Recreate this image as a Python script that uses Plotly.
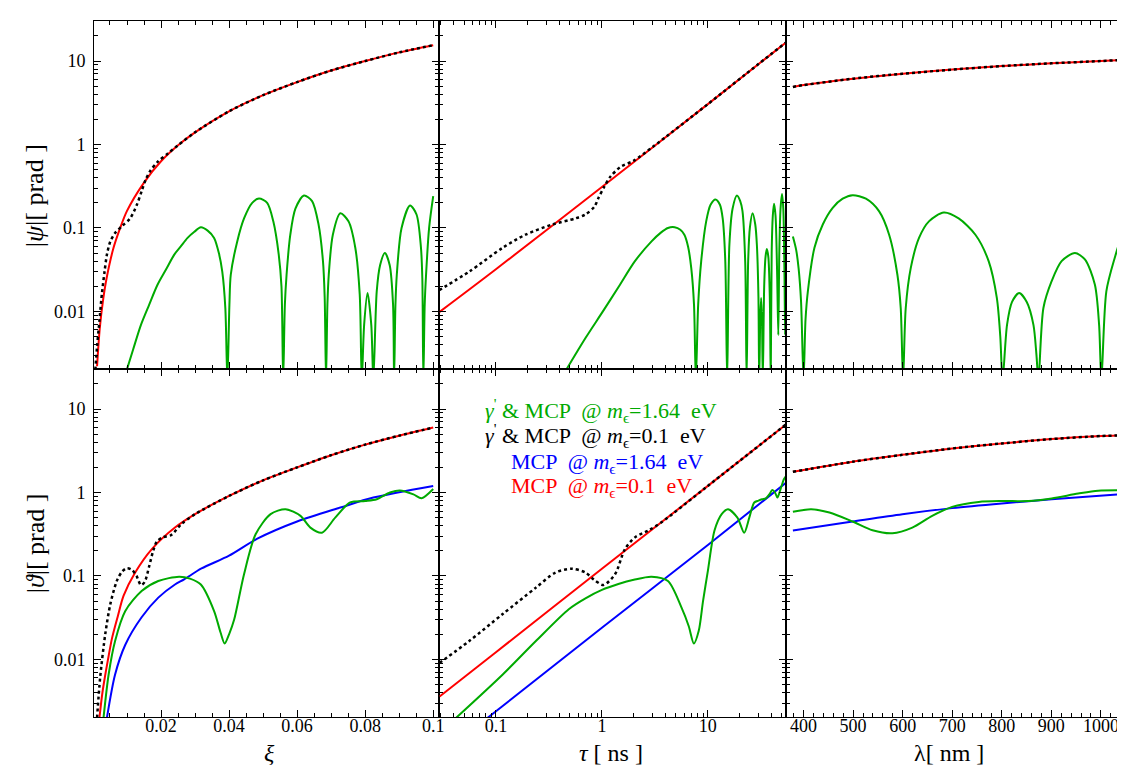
import plotly.graph_objects as go
from plotly.subplots import make_subplots

# ---------------- data ----------------
# top row: |psi| [prad]

# left column, xi
xi_red_top = [0.0012, 0.002, 0.003, 0.004, 0.006, 0.008, 0.01, 0.015, 0.02, 0.025, 0.03,
              0.04, 0.05, 0.06, 0.07, 0.08, 0.09, 0.1]
psi_red_xi = [0.0022, 0.0063, 0.014, 0.025, 0.057, 0.10, 0.16, 0.35, 0.63, 0.98, 1.4,
              2.5, 3.9, 5.6, 7.7, 10, 12.7, 15.5]

xi_blk_top = [0.0007, 0.0012, 0.0017, 0.0026, 0.0034, 0.0041, 0.0051, 0.0065, 0.0085, 0.0109,
              0.0129, 0.0143, 0.0155, 0.0168, 0.019, 0.022, 0.025, 0.03, 0.04, 0.05, 0.06,
              0.07, 0.08, 0.09, 0.1]
psi_blk_xi = [0.002, 0.0038, 0.0063, 0.016, 0.030, 0.048, 0.069, 0.087, 0.105, 0.13,
              0.19, 0.275, 0.38, 0.48, 0.62, 0.78, 0.98, 1.4, 2.5, 3.9, 5.6,
              7.7, 10, 12.7, 15.5]

xi_grn_top = [0.0096, 0.0118, 0.0141, 0.0165, 0.019, 0.0215, 0.0239, 0.0258, 0.0278, 0.0298,
              0.0317, 0.0337, 0.0356, 0.037, 0.038, 0.0389, 0.0395,
              0.0401, 0.0405, 0.0424, 0.0444, 0.0468, 0.0488, 0.0512, 0.053, 0.0546, 0.0554, 0.0559,
              0.0564, 0.0569, 0.058, 0.0595, 0.062, 0.0644, 0.0663, 0.0676, 0.0681, 0.0685,
              0.0689, 0.0693, 0.0705, 0.0727, 0.0751, 0.0771, 0.0784, 0.079,
              0.0797, 0.0807, 0.0818, 0.0824,
              0.0834, 0.0844, 0.0858, 0.0872, 0.0882, 0.0885,
              0.0889, 0.0893, 0.0907, 0.0932, 0.0951, 0.0964, 0.0968, 0.0971,
              0.0975, 0.0979, 0.0988, 0.1]
psi_grn_xi = [0.0018, 0.0035, 0.0069, 0.012, 0.021, 0.032, 0.048, 0.06, 0.076, 0.09,
              0.102, 0.093, 0.076, 0.05, 0.030, 0.011, 0.0015,
              0.012, 0.0275, 0.069, 0.13, 0.20, 0.225, 0.20, 0.12, 0.048, 0.02, 0.0015,
              0.012, 0.0275, 0.083, 0.17, 0.245, 0.21, 0.11, 0.04, 0.015, 0.0015,
              0.012, 0.0275, 0.083, 0.15, 0.12, 0.058, 0.016, 0.0015,
              0.0069, 0.0166, 0.0069, 0.0015,
              0.0174, 0.036, 0.05, 0.036, 0.012, 0.0015,
              0.012, 0.0275, 0.1, 0.186, 0.145, 0.058, 0.025, 0.0015,
              0.012, 0.0275, 0.1, 0.24]

# middle column, tau [ns]
tau_red_top = [0.0292, 0.1, 1, 10, 54.2]
psi_red_tau = [0.0098, 0.032, 0.31, 3.05, 16.6]

tau_blk_top = [0.0292, 0.056, 0.116, 0.19, 0.34, 0.56, 0.70, 0.85, 0.93, 1.05, 1.2, 1.5,
               2.0, 3, 10, 30, 54.2]
psi_blk_tau = [0.018, 0.030, 0.058, 0.083, 0.11, 0.13, 0.145, 0.18, 0.23, 0.31, 0.41, 0.54,
               0.64, 0.93, 3.05, 9.2, 16.6]

tau_grn_top = [0.45, 0.7, 1.0, 1.45, 2.05, 2.94, 3.6, 4.2, 4.86, 5.5, 6.0, 6.5, 6.97, 7.4, 7.7,
               8.1, 8.65, 9.64, 10.6, 11.8, 13.0, 13.8, 14.6, 15.2,
               15.96, 17.1, 18.8, 20.2, 21.2, 22.5, 23.2,
               24.0, 24.9, 26.4, 28.0, 29.0, 30.0, 30.5,
               31.2, 31.8, 32.4, 33.0,
               34.0, 35.0, 36.0, 37.2, 38.4, 39.2,
               40.0, 41.0, 42.1, 43.5, 45.0, 46.2,
               47.2, 48.5, 50.1, 51.5, 52.8, 53.6, 54.2]
psi_grn_tau = [0.0019, 0.0048, 0.0096, 0.02, 0.04, 0.069, 0.088, 0.10, 0.102, 0.095, 0.083, 0.06,
               0.033, 0.012, 0.0015,
               0.012, 0.04, 0.12, 0.19, 0.22, 0.19, 0.13, 0.04, 0.0015,
               0.063, 0.17, 0.245, 0.21, 0.16, 0.04, 0.0015,
               0.04, 0.10, 0.15, 0.11, 0.063, 0.015, 0.0015,
               0.008, 0.0145, 0.008, 0.0015,
               0.02, 0.045, 0.056, 0.045, 0.015, 0.0015,
               0.05, 0.14, 0.195, 0.14, 0.03, 0.0052,
               0.05, 0.17, 0.255, 0.17, 0.03, 0.0052, 0.03]

# right column, lambda [nm]
lam_top = [378.5, 400, 500, 600, 700, 800, 900, 1000, 1054.6]
psi_red_lam = [4.9, 5.15, 6.15, 7.05, 7.9, 8.7, 9.4, 10.0, 10.4]

lam_grn_top = [378.5, 385, 390, 395, 400, 404, 408.7, 422, 438.8, 458.8, 478.9, 499, 525.9,
               552.6, 572.7, 589.4, 596.1, 600.8, 606.2, 616.3, 633, 653, 683.1, 713, 746.8,
               773.5, 790, 797, 801.6, 810.6, 820.7, 835, 850.4, 863.9, 870, 874, 884, 900.6,
               920.7, 947.6, 967.7, 987.8, 996.4, 1001, 1011, 1028, 1041, 1053.2]
psi_grn_lam = [0.079, 0.055, 0.033, 0.013, 0.0015, 0.008, 0.0174, 0.058, 0.11, 0.174, 0.224,
               0.247, 0.224, 0.158, 0.083, 0.0275, 0.011, 0.0015, 0.011, 0.033, 0.076, 0.12,
               0.153, 0.13, 0.083, 0.04, 0.0145, 0.005, 0.0015, 0.0069, 0.013, 0.0166, 0.013,
               0.0069, 0.003, 0.0015, 0.011, 0.023, 0.04, 0.05, 0.042, 0.021, 0.0069, 0.0015,
               0.0174, 0.044, 0.076, 0.105]

# bottom row: |theta| [prad]
xi_red_bot = [0.0019, 0.0027, 0.0036, 0.0046, 0.0056, 0.0073, 0.009, 0.0124, 0.0173, 0.0241,
              0.03, 0.04, 0.05, 0.06, 0.07, 0.08, 0.09, 0.1]
th_red_xi = [0.002, 0.0038, 0.0065, 0.011, 0.018, 0.033, 0.058, 0.11, 0.21, 0.38,
             0.55, 0.91, 1.4, 2.0, 2.8, 3.75, 4.8, 6.0]

xi_blk_bot = [0.0012, 0.0021, 0.0036, 0.0051, 0.007, 0.0085, 0.01, 0.0115, 0.0128, 0.0141,
              0.0152, 0.0165, 0.0177, 0.0188, 0.0205, 0.023, 0.026, 0.03, 0.04, 0.05, 0.06,
              0.07, 0.08, 0.09, 0.1]
th_blk_xi = [0.002, 0.006, 0.02, 0.046, 0.087, 0.112, 0.124, 0.118, 0.1, 0.078,
             0.085, 0.13, 0.2, 0.26, 0.29, 0.31, 0.42, 0.55, 0.91, 1.4, 2.0,
             2.8, 3.75, 4.8, 6.0]

xi_grn_bot = [0.0031, 0.0046, 0.0065, 0.0095, 0.0143, 0.0192, 0.0253, 0.0285, 0.0317, 0.0356,
              0.0375, 0.0387, 0.04, 0.0415, 0.0444, 0.0478, 0.0522, 0.0566, 0.061, 0.0639,
              0.0673, 0.0712, 0.0756, 0.08, 0.0834, 0.0873, 0.0902, 0.0942, 0.0966, 0.1]
th_grn_xi = [0.002, 0.0066, 0.0166, 0.038, 0.066, 0.087, 0.098, 0.093, 0.079, 0.038,
             0.021, 0.0155, 0.02, 0.030, 0.105, 0.316, 0.55, 0.63, 0.525, 0.38,
             0.33, 0.5, 0.76, 0.79, 0.83, 1.0, 1.06, 0.95, 0.855, 1.1]

xi_blu_bot = [0.0041, 0.0065, 0.0095, 0.0143, 0.0192, 0.0241, 0.0268, 0.0319, 0.04, 0.0483,
              0.06, 0.0727, 0.0824, 0.1]
th_blu_xi = [0.002, 0.0066, 0.015, 0.032, 0.055, 0.079, 0.091, 0.123, 0.175, 0.28,
             0.45, 0.66, 0.87, 1.2]

tau_red_bot = [0.0294, 0.1, 1, 10, 54.2]
th_red_tau = [0.0036, 0.0122, 0.122, 1.2, 6.5]

tau_blk_bot = [0.0294, 0.056, 0.116, 0.237, 0.365, 0.52, 0.70, 0.835, 1.035, 1.33, 1.65, 2.05,
               2.74, 3.65, 10, 54.2]
th_blk_tau = [0.0091, 0.0166, 0.035, 0.072, 0.11, 0.122, 0.11, 0.091, 0.078, 0.105, 0.21, 0.29,
              0.35, 0.44, 1.2, 6.5]

tau_grn_bot = [0.0422, 0.116, 0.237, 0.487, 0.70, 1.0, 1.43, 2.0, 2.94, 4.2, 5.63, 6.6, 7.38,
               8.2, 9.0, 10.0, 11.55, 13.5, 15.5, 19.0, 22.0, 24.6, 27.4, 30, 32.5, 35.2, 38,
               40.6, 43, 45.3, 48.5, 52.3, 54.2]
th_grn_tau = [0.002, 0.0066, 0.0165, 0.04, 0.054, 0.068, 0.08, 0.09, 0.098, 0.087, 0.042,
              0.025, 0.0155, 0.022, 0.05, 0.115, 0.35, 0.55, 0.63, 0.5, 0.33, 0.5, 0.76, 0.8,
              0.83, 0.85, 0.95, 1.07, 1.0, 0.87, 1.1, 1.45, 1.55]

tau_blu_bot = [0.0836, 1, 10, 54.2]
th_blu_tau = [0.002, 0.024, 0.235, 1.3]

lam_bot = [378.5, 499, 599.4, 699.8, 800, 900.6, 1001, 1054.6]
th_red_lam = [1.77, 2.34, 2.83, 3.37, 3.87, 4.37, 4.75, 4.87]

lam_grn_bot = [378.5, 415.4, 452.2, 499, 539.2, 579.3, 619.5, 659.6, 699.8, 753.4, 800, 853.8,
               900.6, 954.2, 994.4, 1054.6]
th_grn_lam = [0.587, 0.63, 0.575, 0.449, 0.353, 0.325, 0.38, 0.525, 0.673, 0.77, 0.79, 0.79,
              0.85, 0.97, 1.05, 1.06]

lam_blu_bot = [378.5, 499, 599.4, 699.8, 800, 900.6, 1054.6]
th_blu_lam = [0.35, 0.449, 0.55, 0.65, 0.74, 0.83, 0.97]

# ---------------- figure ----------------
GREEN = "#00aa00"
FONT = "Liberation Serif, DejaVu Serif, serif"

fig = make_subplots(rows=2, cols=3, column_widths=[347, 348, 344],
                    horizontal_spacing=0, vertical_spacing=0)


def add(x, y, color, row, col, dotted=False, smooth=0.8):
    line = dict(color=color, width=2, shape="spline", smoothing=smooth)
    if dotted:
        line.update(color="black", width=2.5, dash="3px,3px")
    fig.add_trace(go.Scatter(x=x, y=y, mode="lines", line=line, showlegend=False,
                             hoverinfo="skip"), row=row, col=col)


# top row
add(xi_grn_top, psi_grn_xi, GREEN, 1, 1)
add(xi_red_top, psi_red_xi, "red", 1, 1)
add(xi_blk_top, psi_blk_xi, "black", 1, 1, dotted=True)

add(tau_grn_top, psi_grn_tau, GREEN, 1, 2)
add(tau_red_top, psi_red_tau, "red", 1, 2)
add(tau_blk_top, psi_blk_tau, "black", 1, 2, dotted=True)

add(lam_grn_top, psi_grn_lam, GREEN, 1, 3)
add(lam_top, psi_red_lam, "red", 1, 3)
add(lam_top, psi_red_lam, "black", 1, 3, dotted=True)

# bottom row
add(xi_blu_bot, th_blu_xi, "blue", 2, 1)
add(xi_grn_bot, th_grn_xi, GREEN, 2, 1)
add(xi_red_bot, th_red_xi, "red", 2, 1)
add(xi_blk_bot, th_blk_xi, "black", 2, 1, dotted=True)

add(tau_blu_bot, th_blu_tau, "blue", 2, 2)
add(tau_grn_bot, th_grn_tau, GREEN, 2, 2)
add(tau_red_bot, th_red_tau, "red", 2, 2)
add(tau_blk_bot, th_blk_tau, "black", 2, 2, dotted=True)

add(lam_blu_bot, th_blu_lam, "blue", 2, 3)
add(lam_grn_bot, th_grn_lam, GREEN, 2, 3)
add(lam_bot, th_red_lam, "red", 2, 3)
add(lam_bot, th_red_lam, "black", 2, 3, dotted=True)

# axes
common = dict(showline=True, linecolor="black", linewidth=1, ticks="inside", ticklen=7,
              tickcolor="black", showgrid=False, zeroline=False,
              tickfont=dict(family=FONT, size=18, color="black"))

y_minor = [m * 10 ** e for e in (-3, -2, -1, 0) for m in range(2, 10)] + [20, 30]
tau_minor = [m * 10 ** e for e in (-2, -1, 0) for m in range(2, 10)
             if m * 10 ** e > 0.029] + [20, 30, 40, 50]

for row in (1, 2):
    for col in (1, 2, 3):
        fig.update_yaxes(type="log", range=[-2.69, 1.48],
                         tickmode="array", tickvals=[0.01, 0.1, 1, 10],
                         ticktext=["0.01", "0.1", "1", "10"],
                         showticklabels=(col == 1), ticklabelstandoff=4,
                         mirror="allticks" if col < 3 else False,
                         minor=dict(tickmode="array", tickvals=y_minor, ticks="inside",
                                    ticklen=4, tickcolor="black"),
                         row=row, col=col, **common)

        if col == 1:
            fig.update_xaxes(range=[0.0003, 0.1018], tickmode="array",
                             tickvals=[0.02, 0.04, 0.06, 0.08, 0.1],
                             ticktext=["0.02", "0.04", "0.06", "0.08", "0.1"],
                             minor=dict(dtick=0.005, tick0=0, ticks="inside", ticklen=4,
                                        tickcolor="black"),
                             row=row, col=col)
        elif col == 2:
            fig.update_xaxes(type="log", range=[-1.534, 1.734], tickmode="array",
                             tickvals=[0.1, 1, 10], ticktext=["0.1", "1", "10"],
                             minor=dict(tickmode="array", tickvals=tau_minor, ticks="inside",
                                        ticklen=4, tickcolor="black"),
                             row=row, col=col)
        else:
            fig.update_xaxes(range=[363.9, 1054.7], tickmode="array",
                             tickvals=[400, 500, 600, 700, 800, 900, 1000],
                             ticktext=["400", "500", "600", "700", "800", "900", "1000"],
                             minor=dict(dtick=20, tick0=0, ticks="inside", ticklen=4,
                                        tickcolor="black"),
                             row=row, col=col)
        fig.update_xaxes(showticklabels=(row == 2), mirror="allticks", ticklabelstandoff=-8,
                         row=row, col=col, **common)

# axis titles and the text key
W, H, L, B = 1039.0, 696.0, 86.0, 709.0


def px(x):
    return (x - L) / W


def py(y):
    return (B - y) / H


notes = [
    (27, 188, "|<i>ψ</i>|[ prad ]", -90, 26),
    (27, 535, "|<i>ϑ</i>|[ prad ]", -90, 26),
    (262, 745, "<i>ξ</i>", 0, 24),
    (605, 745, "<i>τ</i> [ ns ]", 0, 24),
    (945, 745, "λ[ nm ]", 0, 24),
]
for x, y, text, ang, size in notes:
    fig.add_annotation(x=px(x), y=py(y), xref="paper", yref="paper", text=text,
                       textangle=ang, showarrow=False, xanchor="center", yanchor="middle",
                       font=dict(family=FONT, size=size, color="black"))

key = [
    (477, 402, "<i>γ</i><sup>'</sup> &amp; MCP &nbsp;@ <i>m</i><sub>ϵ</sub>=1.64 &nbsp;eV", GREEN),
    (477, 427, "<i>γ</i><sup>'</sup> &amp; MCP &nbsp;@ <i>m</i><sub>ϵ</sub>=0.1 &nbsp;eV", "black"),
    (503, 455, "MCP &nbsp;@ <i>m</i><sub>ϵ</sub>=1.64 &nbsp;eV", "blue"),
    (503, 479, "MCP &nbsp;@ <i>m</i><sub>ϵ</sub>=0.1 &nbsp;eV", "red"),
]
for x, y, text, color in key:
    fig.add_annotation(x=px(x), y=py(y), xref="paper", yref="paper", text=text,
                       xanchor="left", yanchor="middle", showarrow=False,
                       font=dict(family=FONT, size=22, color=color))

fig.update_layout(width=1125, height=765, margin=dict(l=86, r=0, t=13, b=56),
                  plot_bgcolor="white", paper_bgcolor="white")

fig.write_html("out.html")
